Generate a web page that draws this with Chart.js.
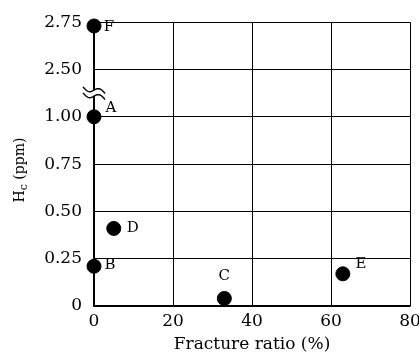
<!DOCTYPE html>
<html>
<head>
<meta charset="utf-8">
<style>
  html, body { margin: 0; padding: 0; background: #fff; }
  #wrap { width: 419px; height: 360px; }
</style>
</head>
<body>
<div id="wrap"><canvas id="hc-chart"></canvas></div>
<script src="https://cdn.jsdelivr.net/npm/chart.js@4.4.0/dist/chart.umd.min.js"></script>
<script>
  const samples = ['A', 'B', 'C', 'D', 'E', 'F'];
  const fractureRatio = [0, 0, 33, 5, 63, 0];
  const hcPpm = [1.00, 0.21, 0.04, 0.41, 0.17, 2.73];
  const yTickLabels = ['0', '0.25', '0.50', '0.75', '1.00', '2.50', '2.75'];

  // broken y axis: 0..1.00, then jumps to 2.50..2.75 (one step = 0.25)
  const toAxis = (v) => v <= 1 ? v / 0.25 : 5 + (v - 2.5) / 0.25;

  // where each letter sits next to its dot
  const labelOffsets = { A: [17, -9], B: [16, -1], C: [0, -22], D: [19, 0], E: [18, -10], F: [15, 1] };

  const FONT = '"DejaVu Serif", "Liberation Serif", serif';

  const extras = {
    id: 'extras',
    afterDraw(chart) {
      const { ctx, scales: { x, y } } = chart;
      ctx.save();
      ctx.fillStyle = '#000';

      // sample letters
      ctx.font = '15px ' + FONT;
      ctx.textAlign = 'center';
      ctx.textBaseline = 'middle';
      chart.getDatasetMeta(0).data.forEach((pt, i) => {
        const [dx, dy] = labelOffsets[samples[i]];
        ctx.fillText(samples[i], pt.x + dx, pt.y + dy);
      });

      // axis break mark
      const by = y.getPixelForValue(4.5);
      const bx = x.getPixelForValue(0);
      const wave = (off) => {
        const pts = [];
        for (let t = -11; t <= 11; t++) {
          pts.push([bx + t, by + off + t * 0.3 - 3 * Math.sin(t / 11 * Math.PI)]);
        }
        return pts;
      };
      const w1 = wave(-3), w2 = wave(3);
      ctx.fillStyle = '#fff';
      ctx.beginPath();
      w1.forEach((p, i) => i ? ctx.lineTo(p[0], p[1]) : ctx.moveTo(p[0], p[1]));
      w2.slice().reverse().forEach((p) => ctx.lineTo(p[0], p[1]));
      ctx.closePath();
      ctx.fill();
      ctx.strokeStyle = '#000';
      ctx.lineWidth = 1.4;
      [w1, w2].forEach((w) => {
        ctx.beginPath();
        w.forEach((p, i) => i ? ctx.lineTo(p[0], p[1]) : ctx.moveTo(p[0], p[1]));
        ctx.stroke();
      });

      // y title: H with subscript c, rotated
      ctx.fillStyle = '#000';
      ctx.translate(20, (y.top + y.bottom) / 2 + 6);
      ctx.rotate(-Math.PI / 2);
      ctx.textAlign = 'left';
      ctx.textBaseline = 'middle';
      const big = '14px ' + FONT, small = '11px ' + FONT;
      ctx.font = big;
      const wH = ctx.measureText('H').width;
      const wRest = ctx.measureText(' (ppm)').width;
      ctx.font = small;
      const wC = ctx.measureText('c').width;
      let cx = -(wH + wC + wRest) / 2;
      ctx.font = big;
      ctx.fillText('H', cx, 0);
      cx += wH;
      ctx.font = small;
      ctx.fillText('c', cx, 4);
      cx += wC;
      ctx.font = big;
      ctx.fillText(' (ppm)', cx, 0);
      ctx.restore();
    }
  };

  new Chart(document.getElementById('hc-chart'), {
    type: 'scatter',
    data: {
      datasets: [{
        data: samples.map((s, i) => ({ x: fractureRatio[i], y: toAxis(hcPpm[i]) })),
        backgroundColor: '#000',
        borderColor: '#000',
        pointRadius: 7,
        pointHoverRadius: 7,
        clip: false
      }]
    },
    options: {
      responsive: true,
      maintainAspectRatio: false,
      animation: false,
      layout: { padding: { top: 18, left: 0, right: 0, bottom: 0 } },
      plugins: { legend: { display: false }, tooltip: { enabled: false } },
      scales: {
        x: {
          type: 'linear',
          min: 0,
          max: 80,
          ticks: { stepSize: 20, color: '#000', padding: 5, font: { family: FONT, size: 17 } },
          grid: { color: '#000', lineWidth: 1, drawTicks: false },
          border: { color: '#000', width: 1.5 },
          title: { display: true, text: 'Fracture ratio (%)', color: '#000', font: { family: FONT, size: 17 }, padding: { top: 0, bottom: 5 } },
          afterFit(scale) { scale.height = 54; scale.paddingRight = 9; }
        },
        y: {
          type: 'linear',
          min: 0,
          max: 6,
          ticks: {
            stepSize: 1,
            color: '#000',
            padding: 12,
            font: { family: FONT, size: 17 },
            callback: (v) => yTickLabels[v]
          },
          grid: { color: '#000', lineWidth: 1, drawTicks: false },
          border: { color: '#000', width: 1.5 },
          afterFit(scale) { scale.width = 94; }
        }
      }
    },
    plugins: [extras]
  });
</script>
</body>
</html>
